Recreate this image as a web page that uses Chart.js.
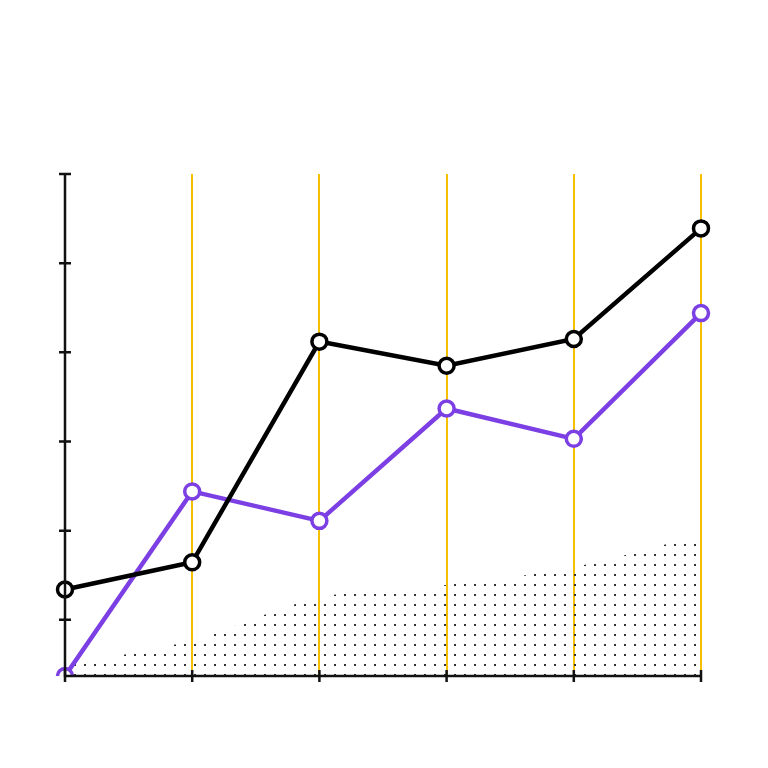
<!DOCTYPE html>
<html><head><script src="https://cdn.jsdelivr.net/npm/chart.js@4"></script>
<style>html,body{margin:0;background:#fff}#w{width:768px;height:768px}</style></head>
<body><div id="w"><canvas id="c"></canvas></div>
<script>
const categories=["1","2","3","4","5","6"];
const blackSeries=[3.4,6.45,31.2,28.5,31.5,43.9];
const purpleSeries=[-6.3,14.4,11.1,23.7,20.3,34.4];
const dotSeries=[-5.1,-2.3,2.5,3.9,5.9,9.5];
const yTicks=[0,10,20,30,40,50];

const pc=document.createElement('canvas');pc.width=10;pc.height=10;
const px=pc.getContext('2d');px.fillStyle='#333';px.fillRect(4,4,2,2);
const dotPattern=px.createPattern(pc,'repeat');

const axisPlugin={id:'axes',afterDatasetsDraw(ch){
 const c=ch.ctx,a=ch.chartArea,x=ch.scales.x,y=ch.scales.y;
 c.save();c.strokeStyle='#111';c.lineWidth=2.5;
 c.beginPath();c.moveTo(a.left,a.top);c.lineTo(a.left,a.bottom);c.lineTo(a.right,a.bottom);c.stroke();
 c.beginPath();
 yTicks.forEach(v=>{const p=y.getPixelForValue(v);c.moveTo(a.left-6,p);c.lineTo(a.left+6,p);});
 categories.forEach((k,i)=>{const p=x.getPixelForValue(i);c.moveTo(p,a.bottom-6);c.lineTo(p,a.bottom+6);});
 c.stroke();c.restore();}};

new Chart(document.getElementById('c'),{type:'line',
 data:{labels:categories,datasets:[
  {data:dotSeries,borderColor:'transparent',pointRadius:0,fill:'start',backgroundColor:dotPattern,tension:0.3,order:3},
  {data:purpleSeries,borderColor:'#7b3fe4',borderWidth:4.5,pointRadius:7.5,pointBackgroundColor:'#fff',pointBorderColor:'#7b3fe4',pointBorderWidth:3.5,order:2},
  {data:blackSeries,borderColor:'#000',borderWidth:4.5,pointRadius:7.5,pointBackgroundColor:'#fff',pointBorderColor:'#000',pointBorderWidth:3.5,order:1}
 ]},
 options:{responsive:true,maintainAspectRatio:false,animation:false,
  layout:{padding:{left:57,right:67,top:174,bottom:92}},
  plugins:{legend:{display:false},tooltip:{enabled:false}},
  scales:{
   x:{offset:false,ticks:{display:false},border:{display:false},
      grid:{color:c=>c.index===0?'transparent':'#f5c000',lineWidth:2,drawTicks:false}},
   y:{min:-6.3,max:50,ticks:{display:false},border:{display:false},grid:{display:false},
      afterBuildTicks:s=>{s.ticks=yTicks.map(v=>({value:v}));}}
  }},
 plugins:[axisPlugin]});
</script></body></html>
